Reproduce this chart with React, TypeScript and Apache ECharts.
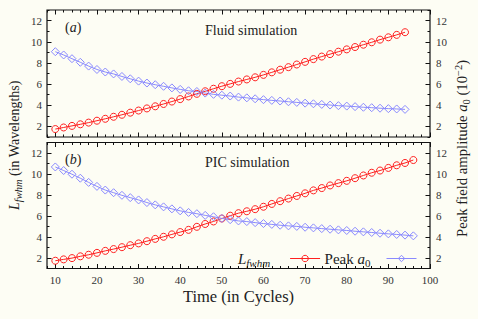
import React, { useEffect, useRef } from 'react';
import * as echarts from 'echarts';

// ---- data ----
const timeFluid = [10, 12, 14, 16, 18, 20, 22, 24, 26, 28, 30, 32, 34, 36, 38, 40, 42, 44, 46, 48, 50, 52, 54, 56, 58, 60, 62, 64, 66, 68, 70, 72, 74, 76, 78, 80, 82, 84, 86, 88, 90, 92, 94];
const fluidLfwhm = [1.75, 1.9, 2.05, 2.2, 2.36, 2.54, 2.72, 2.91, 3.1, 3.3, 3.5, 3.7, 3.9, 4.12, 4.35, 4.58, 4.83, 5.08, 5.32, 5.56, 5.8, 6.02, 6.24, 6.44, 6.64, 6.87, 7.11, 7.36, 7.6, 7.85, 8.1, 8.36, 8.6, 8.83, 9.06, 9.28, 9.5, 9.72, 9.95, 10.2, 10.42, 10.65, 10.9];
const fluidA0 = [9.06, 8.75, 8.4, 8.06, 7.7, 7.38, 7.14, 6.96, 6.72, 6.5, 6.28, 6.1, 5.94, 5.79, 5.64, 5.5, 5.37, 5.3, 5.15, 5.03, 4.95, 4.87, 4.77, 4.7, 4.61, 4.53, 4.46, 4.4, 4.33, 4.27, 4.2, 4.14, 4.08, 4.02, 3.96, 3.92, 3.87, 3.81, 3.77, 3.72, 3.68, 3.65, 3.61];

const timePic = [10, 12, 14, 16, 18, 20, 22, 24, 26, 28, 30, 32, 34, 36, 38, 40, 42, 44, 46, 48, 50, 52, 54, 56, 58, 60, 62, 64, 66, 68, 70, 72, 74, 76, 78, 80, 82, 84, 86, 88, 90, 92, 94, 96];
const picLfwhm = [1.74, 1.87, 1.99, 2.16, 2.31, 2.49, 2.68, 2.85, 3.03, 3.22, 3.39, 3.6, 3.82, 4.02, 4.25, 4.47, 4.68, 4.97, 5.24, 5.48, 5.76, 6.03, 6.27, 6.45, 6.65, 6.88, 7.15, 7.41, 7.66, 7.91, 8.16, 8.44, 8.66, 8.91, 9.13, 9.35, 9.6, 9.86, 10.12, 10.33, 10.58, 10.83, 11.05, 11.33];
const picA0 = [10.67, 10.33, 9.98, 9.6, 9.2, 8.82, 8.47, 8.22, 7.97, 7.75, 7.53, 7.28, 7.06, 6.87, 6.68, 6.49, 6.34, 6.22, 6.06, 5.93, 5.77, 5.65, 5.53, 5.47, 5.37, 5.28, 5.2, 5.12, 5.06, 5.01, 4.93, 4.87, 4.8, 4.74, 4.68, 4.62, 4.55, 4.49, 4.43, 4.36, 4.3, 4.24, 4.18, 4.11];

const xMajorTicks = [10, 20, 30, 40, 50, 60, 70, 80, 90, 100];
const xMinorTicks = [8, 10, 12, 14, 16, 18, 20, 22, 24, 26, 28, 30, 32, 34, 36, 38, 40, 42, 44, 46, 48, 50, 52, 54, 56, 58, 60, 62, 64, 66, 68, 70, 72, 74, 76, 78, 80, 82, 84, 86, 88, 90, 92, 94, 96, 98, 100];
const yMajorTicks = [2, 4, 6, 8, 10, 12];
const yMinorTicks = [1, 2, 3, 4, 5, 6, 7, 8, 9, 10, 11, 12, 13];

const panelTags = ['a', 'b'];
const panelTitles = ['Fluid simulation', 'PIC simulation'];
const seriesNames = ['Lfwhm', 'Peak a0'];

const FONT = 'Liberation Serif';
const RFONT = 'Times'; // single-word family for rich-text tokens
const RED = '#ff2020';
const BLUE = '#8a8aff';
const TICK = '#111';
const INK = '#222';

const grids = [
  { left: 47, top: 10, width: 383, height: 127 },
  { left: 47, top: 142.5, width: 383, height: 126 },
];

function tick(len: number, values: number[]) {
  return { show: true, inside: true, length: len, customValues: values, lineStyle: { color: TICK, width: 1 } };
}

function makeXAxes(g: number, labels: boolean) {
  const base = { type: 'value', gridIndex: g, min: 8, max: 100, axisLine: { show: false, onZero: false }, splitLine: { show: false } };
  return [
    {
      ...base, position: 'bottom', axisTick: tick(4.5, xMajorTicks),
      axisLabel: { show: labels, customValues: xMajorTicks, margin: 6, fontSize: 11, color: '#333', fontFamily: FONT },
      name: labels ? 'Time (in Cycles)' : '', nameLocation: 'middle', nameGap: 19,
      nameTextStyle: { fontSize: 16.5, color: INK, fontFamily: FONT },
    },
    { ...base, position: 'bottom', axisTick: tick(2.5, xMinorTicks), axisLabel: { show: false } },
    { ...base, position: 'top', axisTick: tick(4.5, xMajorTicks), axisLabel: { show: false } },
    { ...base, position: 'top', axisTick: tick(2.5, xMinorTicks), axisLabel: { show: false } },
  ];
}

function makeYAxes(g: number) {
  const base = { type: 'value', gridIndex: g, min: 1, max: 13, axisLine: { show: false, onZero: false }, splitLine: { show: false } };
  const lab = (m: number) => ({ show: true, customValues: yMajorTicks, margin: m, fontSize: 11, color: '#333', fontFamily: FONT });
  return [
    { ...base, position: 'left', axisTick: tick(4.5, yMajorTicks), axisLabel: lab(5) },
    { ...base, position: 'left', axisTick: tick(2.5, yMinorTicks), axisLabel: { show: false } },
    { ...base, position: 'right', axisTick: tick(4.5, yMajorTicks), axisLabel: lab(6) },
    { ...base, position: 'right', axisTick: tick(2.5, yMinorTicks), axisLabel: { show: false } },
  ];
}

function lineSeries(name: string, g: number, xs: number[], ys: number[], color: string, symbol: string) {
  return {
    type: 'line', name, xAxisIndex: g * 4, yAxisIndex: g * 4,
    data: xs.map((x, i) => [x, ys[i]]),
    symbol, symbolSize: symbol === 'circle' ? 7 : 8,
    showAllSymbol: true,
    lineStyle: { color, width: 1 },
    itemStyle: { color: 'rgba(0,0,0,0)', borderColor: color, borderWidth: 1 },
    emphasis: { disabled: true },
  };
}

// rich styles for zrender graphic texts
function zrRich(size: number, sub: number) {
  const p = Math.round(size * 0.55);
  return {
    n: { font: `${size}px ${RFONT}`, fill: INK },
    i: { font: `italic ${size}px ${RFONT}`, fill: INK },
    s: { font: `italic ${sub}px ${RFONT}`, fill: INK, padding: [p, 0, 0, 0] },
    s0: { font: `${sub}px ${RFONT}`, fill: INK, padding: [p, 0, 0, 0] },
    sup: { font: `${sub}px ${RFONT}`, fill: INK, padding: [0, 0, p, 0] },
  };
}

// rich styles for ECharts text (legend)
function ecRich(size: number, sub: number) {
  const p = Math.round(size * 0.55);
  return {
    n: { fontFamily: RFONT, fontSize: size, color: INK },
    i: { fontFamily: RFONT, fontSize: size, fontStyle: 'italic', color: INK },
    s: { fontFamily: RFONT, fontSize: sub, fontStyle: 'italic', color: INK, padding: [p, 0, 0, 0] },
    s0: { fontFamily: RFONT, fontSize: sub, color: INK, padding: [p, 0, 0, 0] },
    g: { fontFamily: RFONT, fontSize: size, width: 11 },
    g2: { fontFamily: RFONT, fontSize: size, width: 15 },
  };
}

export default function App() {
  const ref = useRef<HTMLDivElement>(null);
  useEffect(() => {
    if (!ref.current) return;
    const chart = echarts.init(ref.current, null, { renderer: 'svg' });
    const option: any = {
      animation: false,
      backgroundColor: '#fdfdf4',
      textStyle: { fontFamily: FONT },
      grid: grids.map((g) => ({ ...g, show: true, borderColor: '#111', borderWidth: 1.2, backgroundColor: 'transparent', containLabel: false })),
      xAxis: [...makeXAxes(0, false), ...makeXAxes(1, true)],
      yAxis: [...makeYAxes(0), ...makeYAxes(1)],
      legend: {
        data: seriesNames,
        right: 56, top: 246,
        align: 'right', orient: 'horizontal',
        itemWidth: 30, itemHeight: 8, itemGap: 4,
        selectedMode: false,
        lineStyle: { width: 1 },
        itemStyle: { borderWidth: 1 },
        formatter: (name: string) => (name === seriesNames[0] ? '{i|L}{s|fwhm}{g2| }' : '{n|Peak }{i|a}{s0|0}{g| }'),
        textStyle: { fontFamily: RFONT, fontSize: 15, color: INK, rich: ecRich(15, 11) },
      },
      series: [
        lineSeries(seriesNames[0], 0, timeFluid, fluidLfwhm, RED, 'circle'),
        lineSeries(seriesNames[1], 0, timeFluid, fluidA0, BLUE, 'diamond'),
        lineSeries(seriesNames[0], 1, timePic, picLfwhm, RED, 'circle'),
        lineSeries(seriesNames[1], 1, timePic, picA0, BLUE, 'diamond'),
      ],
      graphic: [
        ...panelTags.map((t, k) => ({
          type: 'text', x: 65, y: grids[k].top + 17,
          style: { text: `{n|(}{i|${t}}{n|)}`, font: `14px ${RFONT}`, verticalAlign: 'middle', align: 'left', rich: zrRich(14, 10) },
        })),
        ...panelTitles.map((t, k) => ({
          type: 'text', x: 205, y: grids[k].top + 20,
          style: { text: t, font: `14px ${RFONT}`, fill: INK, verticalAlign: 'middle', align: 'left' },
        })),
        {
          type: 'text', x: 14, y: 210, rotation: Math.PI / 2,
          style: { text: '{i|L}{s|fwhm}{n| (in Wavelengths)}', font: `14px ${RFONT}`, align: 'left', verticalAlign: 'middle', rich: zrRich(14, 10.5) },
        },
        {
          type: 'text', x: 462, y: 237, rotation: Math.PI / 2,
          style: { text: '{n|Peak field amplitude }{i|a}{s0|0}{n| (10}{sup|−2}{n|)}', font: `14.7px ${RFONT}`, align: 'left', verticalAlign: 'middle', rich: zrRich(14.7, 10.5) },
        },
      ],
    };
    chart.setOption(option);
    return () => chart.dispose();
  }, []);
  return <div ref={ref} style={{ position: 'fixed', left: 0, top: 0, width: 478, height: 319 }} />;
}
